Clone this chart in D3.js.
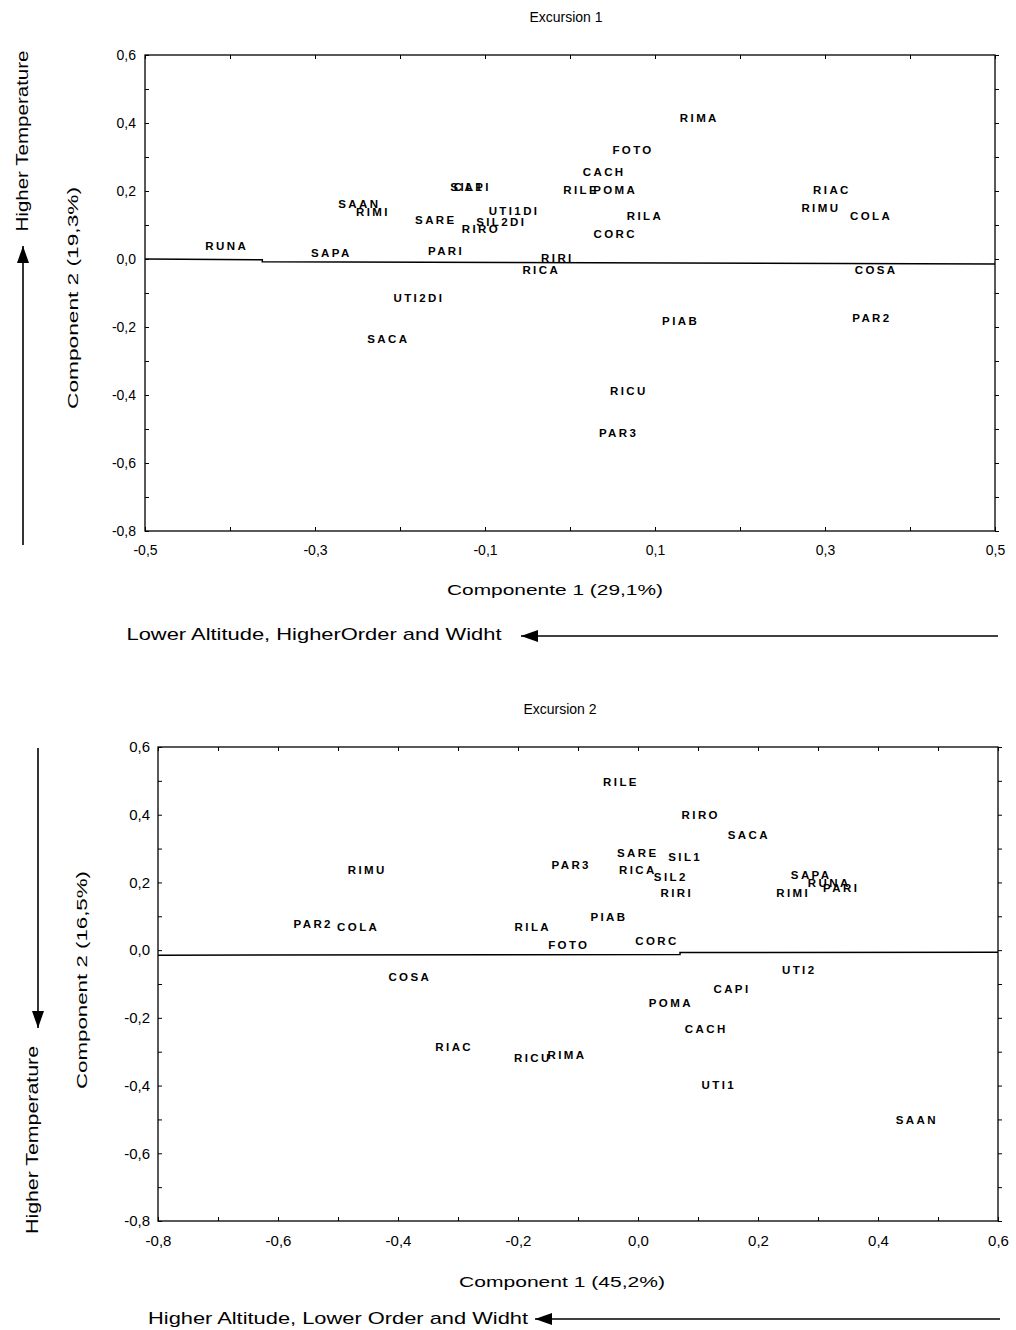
<!DOCTYPE html>
<html>
<head>
<meta charset="utf-8">
<script src="https://cdnjs.cloudflare.com/ajax/libs/d3/7.8.5/d3.min.js"></script>
<style>
body{margin:0;background:#fff}
text{font-family:"Liberation Sans",Arial,sans-serif;fill:#000}
</style>
</head>
<body>
<svg></svg>
<script>
// Excursion 1 : site scores
var sites1 = ["RUNA","SAPA","SAAN","RIMI","SARE","PARI","SIL1","CAPI","UTI1DI","SIL2DI","RIRO","RIRI","RICA","CACH","RILE","POMA","FOTO","RIMA","RILA","CORC","RIAC","RIMU","COLA","COSA","PAR2","PIAB","RICU","PAR3","UTI2DI","SACA"]
var comp1a = [-0.405,-0.282,-0.249,-0.233,-0.159,-0.147,-0.122,-0.116,-0.067,-0.082,-0.106,-0.016,-0.035,0.039,0.012,0.052,0.073,0.151,0.087,0.052,0.307,0.294,0.353,0.359,0.354,0.129,0.068,0.056,-0.179,-0.215]
var comp2a = [0.038,0.018,0.162,0.138,0.115,0.024,0.212,0.212,0.141,0.109,0.088,0.003,-0.032,0.256,0.203,0.203,0.321,0.415,0.126,0.074,0.203,0.150,0.126,-0.032,-0.174,-0.182,-0.388,-0.512,-0.115,-0.235]
var zeroA_x = [-0.5,-0.362,-0.362,0.5]
var zeroA_y = [0.0,-0.002,-0.008,-0.015]

// Excursion 2 : site scores
var sites2 = ["RILE","RIRO","SACA","SARE","SIL1","PAR3","RICA","SIL2","RIRI","SAPA","RUNA","RIMI","PARI","RIMU","PIAB","PAR2","COLA","RILA","FOTO","CORC","UTI2","COSA","CAPI","POMA","CACH","RIAC","RICU","RIMA","UTI1","SAAN"]
var comp1b = [-0.030,0.103,0.183,-0.002,0.077,-0.113,-0.002,0.053,0.063,0.287,0.317,0.257,0.337,-0.453,-0.050,-0.543,-0.468,-0.177,-0.117,0.030,0.267,-0.382,0.155,0.053,0.112,-0.308,-0.177,-0.120,0.133,0.463]
var comp2b = [0.496,0.399,0.340,0.286,0.275,0.251,0.236,0.216,0.168,0.221,0.198,0.168,0.183,0.236,0.097,0.077,0.068,0.068,0.015,0.027,-0.059,-0.080,-0.115,-0.157,-0.233,-0.286,-0.319,-0.310,-0.399,-0.502]
var zeroB_x = [-0.8,0.07,0.07,0.6]
var zeroB_y = [-0.015,-0.013,-0.007,-0.006]

var xTicksA = d3.range(-5,6).map(function(d){return d/10})
var yTicks = d3.range(-8,7).map(function(d){return d/10})
var xTicksB = d3.range(-8,7).map(function(d){return d/10})

var comma = function(d){ return d3.format(".1f")(d).replace("−","-").replace(".",",") }

var svg = d3.select("svg").attr("width",1016).attr("height",1330)

var panel = function(cfg)
{
    var x = d3.scaleLinear().domain(cfg.xdom).range([cfg.left,cfg.right])
    var y = d3.scaleLinear().domain([-0.8,0.6]).range([cfg.bottom,cfg.top])
    var g = svg.append("g")

    g.append("rect")
     .attr("x",cfg.left).attr("y",cfg.top)
     .attr("width",cfg.right-cfg.left).attr("height",cfg.bottom-cfg.top)
     .attr("fill","none").attr("stroke","#000").attr("stroke-width",1.3)

    var ax = g.append("g").attr("transform","translate(0,"+cfg.bottom+")")
      .call(d3.axisBottom(x).tickValues(cfg.xticks).tickSize(-4).tickPadding(cfg.xpad)
        .tickFormat(function(d,i){ return cfg.xlabel(i) ? comma(d) : "" }))
    var ay = g.append("g").attr("transform","translate("+cfg.left+",0)")
      .call(d3.axisLeft(y).tickValues(yTicks).tickSize(-4).tickPadding(cfg.ypad)
        .tickFormat(function(d,i){ return i%2==0 ? comma(d) : "" }))
    g.append("g").attr("transform","translate("+cfg.right+",0)")
      .call(d3.axisRight(y).tickValues(yTicks).tickSize(4).tickFormat(""))
    g.append("g").attr("transform","translate(0,"+cfg.top+")")
      .call(d3.axisTop(x).tickValues(cfg.xticks).tickSize(-4).tickFormat(""))
    g.selectAll(".domain").remove()
    g.selectAll(".tick line").attr("stroke","#000")
    g.selectAll("g").attr("font-size",cfg.tickfont).attr("font-family","Liberation Sans, Arial, sans-serif")

    g.append("path")
     .datum(d3.range(cfg.zx.length))
     .attr("fill","none").attr("stroke","#000").attr("stroke-width",1.5)
     .attr("d",d3.line().x(function(i){return x(cfg.zx[i])}).y(function(i){return y(cfg.zy[i])}))

    g.selectAll("text.site")
     .data(cfg.names)
     .enter()
     .append("text")
     .attr("class","site")
     .attr("x",function(d,i){return x(cfg.px[i])+1})
     .attr("y",function(d,i){return y(cfg.py[i])+4})
     .attr("text-anchor","middle")
     .attr("font-size",11.5)
     .attr("font-weight","bold")
     .attr("letter-spacing",2.4)
     .text(function(d){return d})

    g.append("text")
     .attr("x",cfg.titlex).attr("y",cfg.top-33)
     .attr("text-anchor","middle").attr("font-size",14)
     .text(cfg.title)
}

panel({title:"Excursion 1", titlex:566, xdom:[-0.5,0.5], left:145, right:995, top:55, bottom:531,
       xticks:xTicksA, xlabel:function(i){return i%2==0}, xpad:14, ypad:9, tickfont:14,
       names:sites1, px:comp1a, py:comp2a, zx:zeroA_x, zy:zeroA_y})
panel({title:"Excursion 2", titlex:560, xdom:[-0.8,0.6], left:158, right:998, top:747, bottom:1221,
       xticks:xTicksB, xlabel:function(i){return i%2==0}, xpad:14, ypad:8, tickfont:15,
       names:sites2, px:comp1b, py:comp2b, zx:zeroB_x, zy:zeroB_y})

// axis titles and annotations
var label = function(txt,x,y,len,rot,size)
{
    svg.append("text")
       .attr("transform","translate("+x+","+y+")"+(rot?" rotate(-90)":""))
       .attr("text-anchor","middle").attr("font-size",size)
       .attr("textLength",len).attr("lengthAdjust","spacingAndGlyphs")
       .text(txt)
}
label("Componente 1 (29,1%)",555,595,216,false,15)
label("Component 2 (19,3%)",78,298,222,true,15)
label("Higher Temperature",28,141,181,true,16)
label("Lower Altitude, HigherOrder and Widht",314,640,375,false,17)

label("Component 1 (45,2%)",562,1287,206,false,15)
label("Component 2 (16,5%)",87,980,218,true,15)
label("Higher Temperature",38,1140,188,true,16)
label("Higher Altitude, Lower Order and Widht",338,1324,380,false,17)

var arrow = function(x1,y1,x2,y2)
{
    svg.append("line").attr("x1",x1).attr("y1",y1).attr("x2",x2).attr("y2",y2)
       .attr("stroke","#000").attr("stroke-width",1.6)
    var a = Math.atan2(y2-y1,x2-x1), L=17, W=6
    var bx = x2-L*Math.cos(a), by = y2-L*Math.sin(a)
    var pts = [[x2,y2],[bx+W*Math.sin(a),by-W*Math.cos(a)],[bx-W*Math.sin(a),by+W*Math.cos(a)]]
    svg.append("path").attr("d","M"+pts.join("L")+"Z").attr("fill","#000")
}
arrow(23,545,23,246)
arrow(998,636,521,636)
arrow(38,748,38,1028)
arrow(1000,1319,535,1319)
</script>
</body>
</html>
